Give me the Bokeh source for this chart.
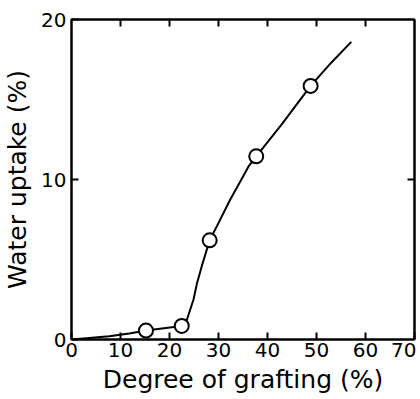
from bokeh.plotting import figure
from bokeh.models import Range1d, LinearAxis, FixedTicker
from bokeh.embed import file_html
from bokeh.resources import INLINE

# Measured points (degree of grafting %, water uptake %)
point_x = [15.2, 22.5, 28.2, 37.7, 48.8]
point_y = [0.56, 0.85, 6.2, 11.45, 15.85]

# Hand-drawn curve
curve_x = [0.0, 3.6, 7.7, 11.8, 15.2, 22.5, 23.4, 23.9, 24.9, 25.6, 26.6, 27.6, 28.2, 29.7, 32.4, 34.5, 36.1, 37.7, 42.9, 48.8, 53.0, 57.1]
curve_y = [0.0, 0.1, 0.2, 0.38, 0.56, 0.85, 1.1, 1.56, 2.5, 3.5, 4.6, 5.6, 6.2, 7.1, 8.75, 9.9, 10.8, 11.45, 13.45, 15.85, 17.3, 18.6]

x_ticks = [0, 10, 20, 30, 40, 50, 60, 70]
y_ticks = [0, 10, 20]

FONT = "DejaVu Sans"

p = figure(frame_width=343, frame_height=320, output_backend="svg", toolbar_location=None,
           x_range=Range1d(0, 70), y_range=Range1d(0, 20),
           min_border_left=68, min_border_top=19, min_border_right=2, min_border_bottom=58)
p.grid.visible = False
p.outline_line_color = "black"
p.outline_line_width = 2
p.background_fill_color = "white"
p.border_fill_color = "white"

for ax, ticks in ((p.xaxis[0], x_ticks), (p.yaxis[0], y_ticks)):
    ax.ticker = FixedTicker(ticks=ticks)
    ax.axis_line_width = 2
    ax.major_tick_in = 7
    ax.major_tick_out = 0
    ax.major_tick_line_width = 2
    ax.minor_tick_line_color = None
    ax.major_label_text_font = FONT
    ax.major_label_text_font_size = "20px"
    ax.major_label_text_color = "black"
    ax.axis_label_text_font = FONT
    ax.axis_label_text_font_size = "25px"
    ax.axis_label_text_font_style = "normal"
    ax.axis_label_text_color = "black"

p.xaxis.axis_label = "Degree of grafting (%)"
p.yaxis.axis_label = "Water uptake (%)"
p.xaxis.major_label_standoff = 3
p.xaxis.axis_label_standoff = 5
p.yaxis.major_label_standoff = 5
p.yaxis.axis_label_standoff = 6

top_ticks = x_ticks[1:-1]
right_ticks = [10]
top = LinearAxis(ticker=FixedTicker(ticks=top_ticks),
                 major_label_overrides={t: "" for t in top_ticks},
                 major_tick_in=7, major_tick_out=0, major_label_standoff=0,
                 axis_line_width=2, major_tick_line_width=2, minor_tick_line_color=None)
right = LinearAxis(ticker=FixedTicker(ticks=right_ticks),
                   major_label_overrides={t: "" for t in right_ticks},
                   major_tick_in=7, major_tick_out=0, major_label_standoff=0,
                   axis_line_width=2, major_tick_line_width=2, minor_tick_line_color=None)
p.add_layout(top, "above")
p.add_layout(right, "right")

p.line(curve_x, curve_y, line_color="black", line_width=2)
p.scatter(point_x, point_y, size=14, fill_color="white", line_color="black", line_width=2)

open("out.html", "w").write(file_html(p, INLINE))
